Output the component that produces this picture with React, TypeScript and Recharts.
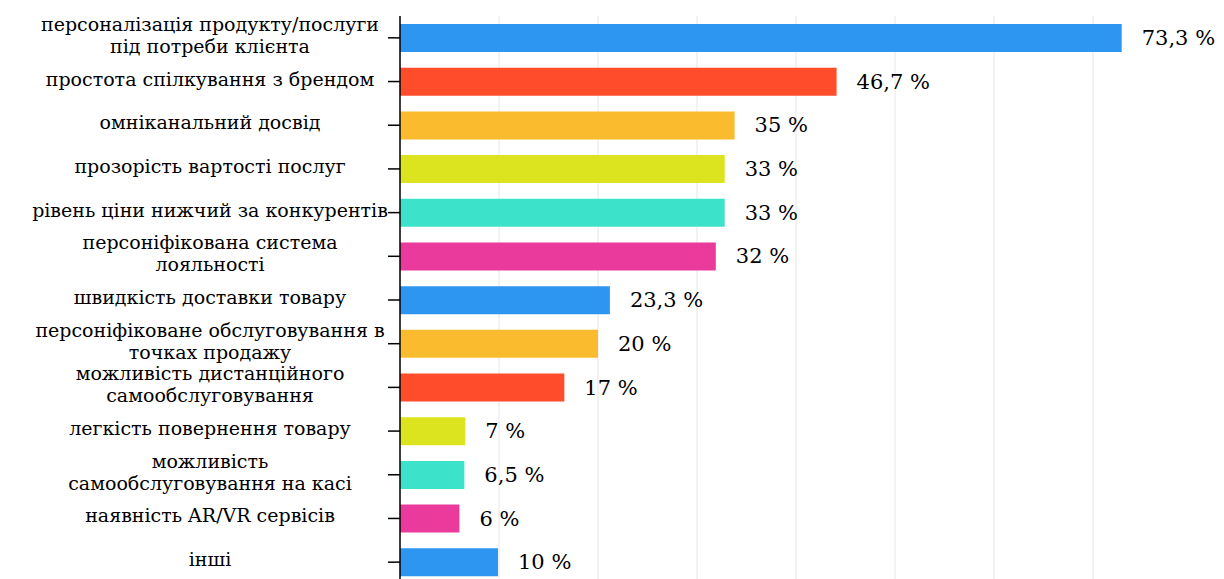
import { BarChart, Bar, XAxis, YAxis, CartesianGrid, Cell, LabelList } from "recharts"

const categories = [
  "персоналізація продукту/послуги\nпід потреби клієнта",
  "простота спілкування з брендом",
  "омніканальний досвід",
  "прозорість вартості послуг",
  "рівень ціни нижчий за конкурентів",
  "персоніфікована система\nлояльності",
  "швидкість доставки товару",
  "персоніфіковане обслуговування в\nточках продажу",
  "можливість дистанційного\nсамообслуговування",
  "легкість повернення товару",
  "можливість\nсамообслуговування на касі",
  "наявність AR/VR сервісів",
  "інші",
]

// bar lengths as drawn (percent)
const values = [72.9, 44.1, 33.8, 32.8, 32.8, 31.9, 21.2, 20.0, 16.6, 6.6, 6.5, 6.0, 9.9]

// value labels as printed
const valueLabels = [
  "73,3 %", "46,7 %", "35 %", "33 %", "33 %", "32 %", "23,3 %",
  "20 %", "17 %", "7 %", "6,5 %", "6 %", "10 %",
]

const barColors = [
  "#2D96F0", "#FF4D2B", "#FBBB2E", "#DCE31F", "#3CE2C9", "#EA3B9C", "#2D96F0",
  "#FBBB2E", "#FF4D2B", "#DCE31F", "#3CE2C9", "#EA3B9C", "#2D96F0",
]

const xMax = 80
const xTicks = [0, 10, 20, 30, 40, 50, 60, 70]

const data = categories.map((name, i) => ({
  name,
  value: values[i],
  label: valueLabels[i],
}))

const serif = "'DejaVu Serif', 'Liberation Serif', serif"

function CategoryTick(props: any) {
  const { y, payload } = props
  const lines = String(payload.value).split("\n")
  const lineH = 22
  const startY = y - ((lines.length - 1) * lineH) / 2 - 3
  return (
    <text
      x={210}
      y={startY}
      textAnchor="middle"
      fontFamily={serif}
      fontSize={19}
      fill="#000"
    >
      {lines.map((l, i) => (
        <tspan key={i} x={210} y={startY + i * lineH} dominantBaseline="central">
          {l}
        </tspan>
      ))}
    </text>
  )
}

function ValueLabel(props: any) {
  const { x, y, width, height, index } = props
  return (
    <text
      x={x + width + 20}
      y={y + height / 2}
      dominantBaseline="central"
      fontFamily={serif}
      fontSize={21}
      fill="#000"
    >
      {valueLabels[index]}
    </text>
  )
}

export default function App() {
  return (
    <div
      style={{
        position: "absolute",
        left: 0,
        top: 0,
        width: 1224,
        height: 579,
        overflow: "hidden",
        background: "#fff",
      }}
    >
      <BarChart
        width={1224}
        height={600}
        data={data}
        layout="vertical"
        margin={{ top: 16, right: 32, bottom: 16, left: 0 }}
        barSize={28}
      >
        <CartesianGrid
          horizontal={false}
          stroke="#e6e6e6"
          verticalCoordinatesGenerator={({ offset }: any) =>
            xTicks.map((t) => offset.left + (offset.width * t) / xMax)
          }
        />
        <XAxis type="number" domain={[0, xMax]} ticks={xTicks} hide />
        <YAxis
          type="category"
          dataKey="name"
          width={400}
          tickSize={12}
          axisLine={{ stroke: "#000", strokeWidth: 1.5 }}
          tickLine={{ stroke: "#000", strokeWidth: 1.5 }}
          tick={<CategoryTick />}
          interval={0}
        />
        <Bar dataKey="value" isAnimationActive={false}>
          {data.map((d, i) => (
            <Cell key={`cell-${i}`} fill={barColors[i]} />
          ))}
          <LabelList dataKey="label" content={<ValueLabel />} />
        </Bar>
      </BarChart>
    </div>
  )
}
